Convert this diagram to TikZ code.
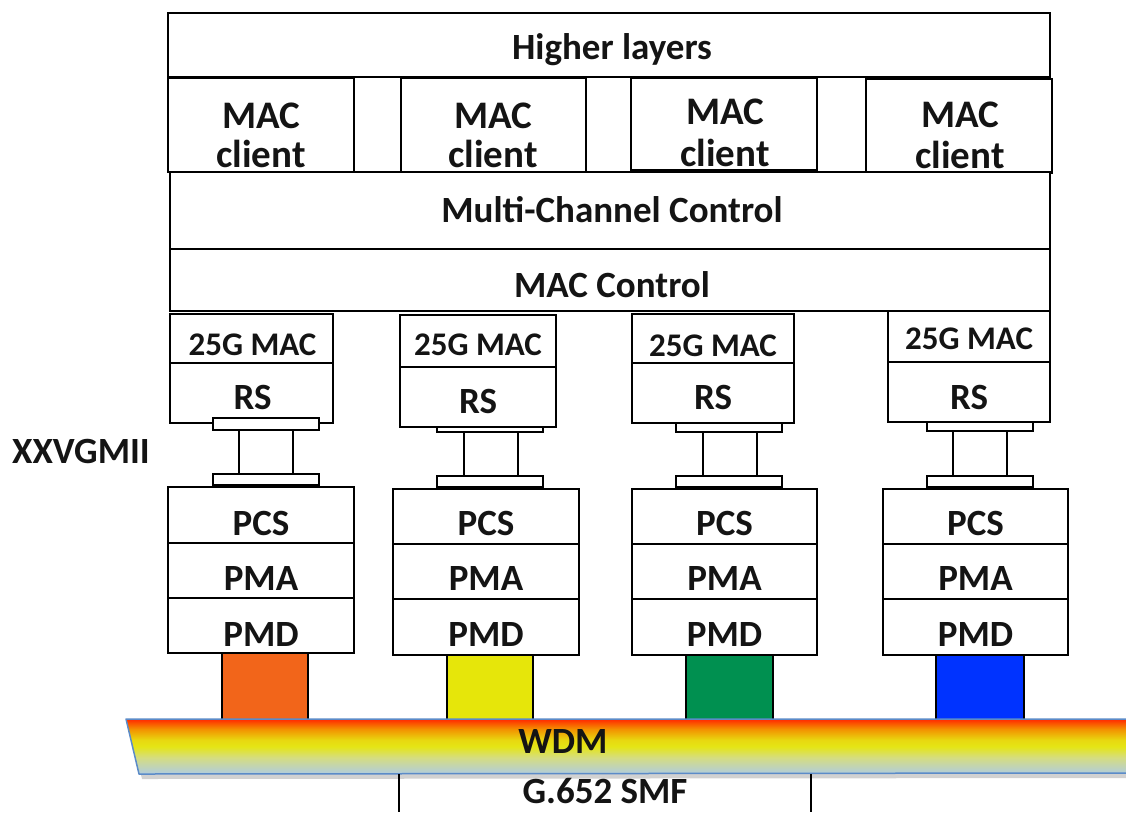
\documentclass[tikz,border=0pt]{standalone}
\usepackage{fontspec}
\setmainfont{Carlito}
\definecolor{corange}{HTML}{F2651A}
\definecolor{cyellow}{HTML}{E6E60A}
\definecolor{cgreen}{HTML}{009050}
\definecolor{cblue}{HTML}{0033FF}
\definecolor{wdmborder}{HTML}{5B8BC8}
\definecolor{wA}{HTML}{B0CCE0}
\definecolor{wB}{HTML}{D5DD80}
\definecolor{wC}{HTML}{E5E515}
\definecolor{wD}{HTML}{E8D810}
\definecolor{wE}{HTML}{F39000}
\definecolor{wF}{HTML}{FF3300}
\pgfdeclareverticalshading{wdmshade}{100bp}{color(0bp)=(wA); color(25bp)=(wA); color(40bp)=(wB); color(50bp)=(wC); color(56bp)=(wD); color(66bp)=(wE); color(74bp)=(wF); color(100bp)=(wF)}
\newcommand\bnode[6][]{\pgfmathsetmacro\bw{#4-#2}\pgfmathsetmacro\bh{#6-#3}%
  \node[box,#1,minimum width=\bw pt,minimum height=\bh pt] (#5) at (#2,#3) {};}
\begin{document}
\begin{tikzpicture}[x=1pt,y=-1pt,
  box/.style={draw=black, line width=1.8pt, fill=white, inner sep=0pt, outer sep=0pt, anchor=north west},
  lbl/.style={font=\fontsize{37}{40}\selectfont\bfseries, anchor=base, inner sep=0pt, text=black!92},
  sml/.style={lbl, font=\fontsize{33}{36}\selectfont\bfseries},
  big/.style={lbl, font=\fontsize{39}{42}\selectfont\bfseries},
  sep/.style={draw=black, line width=1.8pt}]
\useasboundingbox (0,0) rectangle (1126,812);
% top layers
\bnode{168}{13}{1050}{hl}{77}
\bnode{168}{78}{354}{mc1}{172}
\bnode{401}{78}{586}{mc2}{172}
\bnode{631}{78}{817}{mc3}{170}
\bnode{866}{79}{1052}{mc4}{173}
\bnode{170}{172}{1050}{mcc}{249}
\bnode{170}{249}{1050}{macc}{311}
\node[lbl] (thl) at (612,59) {Higher layers};
\node[big] (tmc1a) at (261,128) {MAC};
\node[big] (tmc1b) at (261,167) {client};
\node[big] (tmc2a) at (493,128) {MAC};
\node[big] (tmc2b) at (493,167) {client};
\node[big] (tmc3a) at (725,124) {MAC};
\node[big] (tmc3b) at (725,166) {client};
\node[big] (tmc4a) at (960,127) {MAC};
\node[big] (tmc4b) at (960,168) {client};
\node[lbl] (tmcc) at (612,222) {Multi-Channel Control};
\node[lbl] (tmacc) at (612,297) {MAC Control};
% XXVGMII connectors (plates behind boxes for 2-4)
\bnode{437}{421}{543}{p2u}{432}
\bnode{676}{421}{782}{p3u}{432}
\bnode{927}{420}{1033}{p4u}{431}
% MAC / RS boxes
\bnode{170}{314}{333}{mac1}{363}
\bnode{170}{363}{333}{rs1}{423}
\bnode{400}{315}{556}{mac2}{367}
\bnode{400}{367}{556}{rs2}{427}
\bnode{632}{314}{794}{mac3}{363}
\bnode{632}{363}{794}{rs3}{423}
\bnode{888}{311}{1050}{mac4}{362}
\bnode{888}{362}{1050}{rs4}{422}
\bnode{213}{418}{319}{p1u}{430}
\node[sml] (tmac1) at (252.5,355) {25G MAC};
\node[lbl] (trs1) at (252.5,409) {RS};
\node[sml] (tmac2) at (478,355) {25G MAC};
\node[lbl] (trs2) at (478,413) {RS};
\node[sml] (tmac3) at (713,356) {25G MAC};
\node[lbl] (trs3) at (713,409) {RS};
\node[sml] (tmac4) at (969,349) {25G MAC};
\node[lbl] (trs4) at (969,409) {RS};
% stems and lower plates
\bnode{239}{430}{293}{st1}{474}
\bnode{464}{432}{518}{st2}{476}
\bnode{703}{432}{757}{st3}{476}
\bnode{953}{431}{1007}{st4}{476}
\bnode{213}{474}{319}{p1l}{485}
\bnode{437}{476}{543}{p2l}{487}
\bnode{676}{476}{782}{p3l}{487}
\bnode{927}{476}{1033}{p4l}{487}
\node[lbl] (txxv) at (81,463) {XXVGMII};
% PHY stacks
\bnode{168}{487}{354}{pcs1}{543}
\bnode{168}{543}{354}{pma1}{598}
\bnode{168}{598}{354}{pmd1}{653}
\bnode{393}{489}{579}{pcs2}{544}
\bnode{393}{544}{579}{pma2}{599}
\bnode{393}{599}{579}{pmd2}{655}
\bnode{632}{489}{817}{pcs3}{544}
\bnode{632}{544}{817}{pma3}{599}
\bnode{632}{599}{817}{pmd3}{655}
\bnode{883}{489}{1068}{pcs4}{544}
\bnode{883}{544}{1068}{pma4}{599}
\bnode{883}{599}{1068}{pmd4}{655}
\foreach \n/\x in {1/261,2/486,3/724.5,4/975.5}{
  \node[lbl] (tpcs\n) at (\x,535) {PCS};
  \node[lbl] (tpma\n) at (\x,590) {PMA};
  \node[lbl] (tpmd\n) at (\x,646) {PMD};
}
% coloured lanes
\bnode[fill=corange]{222}{653}{308}{c1}{721}
\bnode[fill=cyellow]{447}{655}{533}{c2}{721}
\bnode[fill=cgreen]{686}{655}{773}{c3}{721}
\bnode[fill=cblue]{936}{655}{1024}{c4}{721}
% WDM
\fill[black, opacity=0.18] (129,723) -- (1126,723) -- (1126,778) -- (142,779) -- cycle;
\shade[shading=wdmshade] (126,719) -- (1126,719) -- (1126,773) -- (139,774) -- cycle;
\draw[wdmborder, line width=1.5pt, line join=round] (1126,719) -- (126,719) -- (139,774) -- (1126,773);
\node[lbl] (twdm) at (563,753) {WDM};
% fibre
\coordinate (fl1) at (399,774);
\coordinate (fl2) at (399,812);
\coordinate (fr1) at (811,774);
\coordinate (fr2) at (811,812);
\draw[sep] (fl1) -- (fl2);
\draw[sep] (fr1) -- (fr2);
\node[lbl, text depth=0pt] (tsmf) at (605,803) {G.652 SMF};
\end{tikzpicture}
\end{document}
